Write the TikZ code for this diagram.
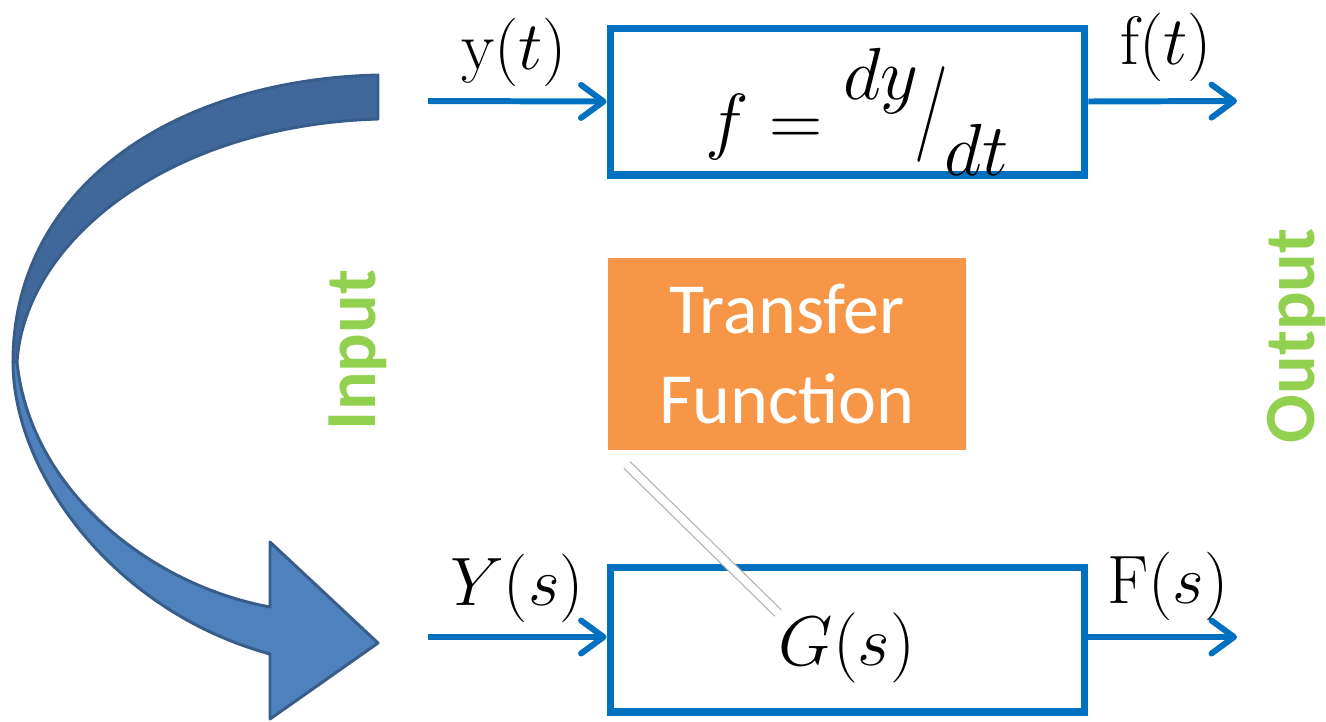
\documentclass[tikz,border=0pt]{standalone}
\usepackage{fix-cm}
\usepackage{fontspec}
\usepackage{graphicx}
\usepackage{xcolor}
\usepackage{tikz}
\usetikzlibrary{arrows.meta,positioning,shadows}
\newfontfamily\calfont{Carlito}
\definecolor{sysblue}{HTML}{0070C0}
\definecolor{tforange}{HTML}{F79646}
\definecolor{lblgreen}{HTML}{92D050}
\definecolor{ribbonlight}{HTML}{4F81BD}
\definecolor{ribbondark}{HTML}{41689A}
\definecolor{ribbonedge}{HTML}{385D8A}

\begin{document}
\begin{tikzpicture}[x=0.02cm,y=-0.02cm,
    blockbox/.style={draw=sysblue,line width=4pt,minimum width=9.5cm,inner sep=0pt},
    sigarrow/.style={draw=sysblue,line width=3.4pt,-{Straight Barb[length=4.5mm,width=6.6mm,round]}},
    siglabel/.style={font=\fontsize{39}{44}\selectfont,inner sep=0pt},
    sidelabel/.style={font=\calfont\bfseries\fontsize{41}{48}\selectfont,text=lblgreen,rotate=90,inner sep=0pt}]
        \useasboundingbox (0,0) rectangle (1326,721);
        % curved ribbon arrow, time domain -> s domain
        \filldraw[fill=ribbonlight,draw=ribbonedge,line width=1.7pt,line join=round] (13,362) .. controls (13,470) and (110,610) .. (270,654) -- (270,719) -- (378,643) -- (270,542) -- (270,607) .. controls (150,585) and (30,490) .. (17,362) -- cycle;
        \filldraw[fill=ribbondark,draw=ribbonedge,line width=1.7pt,line join=round] (378,75) .. controls (170,80) and (13,190) .. (13,362) -- (17,362) .. controls (25,240) and (170,125) .. (378,119) -- cycle;
        \node[sidelabel] (inlab) at (358,350) {Input};
        \node[sidelabel] (outlab) at (1297,336) {Output};
        % time domain block
        \node[blockbox,minimum height=2.94cm] (tbox) at (847.5,101.5) {};
        \node[font=\fontsize{42}{46}\selectfont] (tform) at (857,112) {$f = \raisebox{0.62em}{$dy$}\mkern-1mu\raisebox{0.1em}{\scalebox{1}[1.3]{$/$}}\mkern-1mu\raisebox{-0.4em}{$dt$}$};
        \coordinate (yin) at (428,101);
        \coordinate (fout) at (1237,101);
        \draw[sigarrow] (yin) -- (tbox.west);
        \draw[sigarrow] (tbox.east) -- (fout);
        \node[siglabel] (ylab) at (514,52) {$\mathrm{y}(t)$};
        \node[siglabel] (flab) at (1166,47) {$\mathrm{f}(t)$};
        % s domain block
        \node[blockbox,minimum height=2.9cm] (sbox) at (847.5,639.5) {};
        \node[font=\fontsize{40}{44}\selectfont] (gform) at (847,648) {$G(s)$};
        \coordinate (Yin) at (428,637);
        \coordinate (Fout) at (1237,637);
        \draw[sigarrow] (Yin) -- (Yin-|sbox.west);
        \draw[sigarrow] (Fout-|sbox.east) -- (Fout);
        \node[siglabel] (Ylab) at (517,588) {$Y(s)$};
        \node[siglabel] (Flab) at (1168,586) {$\mathrm{F}(s)$};
        % callout
        \node[fill=tforange,draw=white,line width=4pt,minimum width=7.3cm,minimum height=3.98cm,
              drop shadow={opacity=0.35,shadow xshift=0.6pt,shadow yshift=-1.2pt},
              text=white,align=center,font=\calfont\fontsize{41}{51}\selectfont] (tfbox) at (787,354) {Transfer\\Function};
        \coordinate (tailA) at (627,465);
        \coordinate (tailB) at (778,613);
        \draw[draw=black!30,double=white,double distance=4.4pt,line width=0.7pt] (tailA) -- (tailB);
\end{tikzpicture}
\end{document}
